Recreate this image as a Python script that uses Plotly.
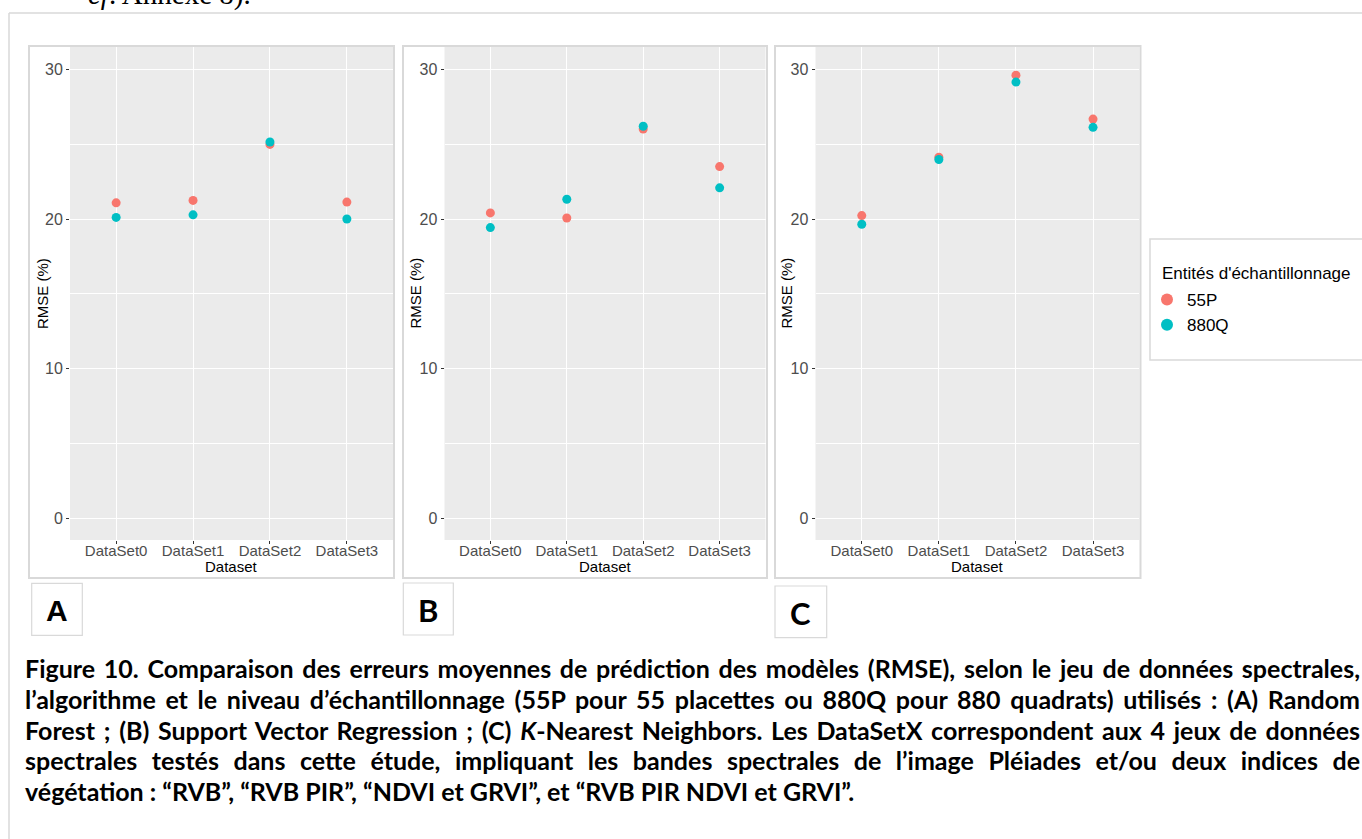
import json
import plotly.graph_objects as go

# ---- data -------------------------------------------------------------
datasets = ["DataSet0", "DataSet1", "DataSet2", "DataSet3"]
groups = ["55P", "880Q"]

rmse_rf_55p = [21.08, 21.24, 24.98, 21.13]      # (A) Random Forest
rmse_rf_880q = [20.11, 20.28, 25.14, 20.00]
rmse_svr_55p = [20.41, 20.07, 26.01, 23.50]     # (B) Support Vector Regression
rmse_svr_880q = [19.43, 21.32, 26.19, 22.08]
rmse_knn_55p = [20.23, 24.12, 29.60, 26.67]     # (C) K-Nearest Neighbors
rmse_knn_880q = [19.65, 23.97, 29.14, 26.12]

y_ticks = [0, 10, 20, 30]
panel_letters = ["A", "B", "C"]

caption_lines = [
    "Figure 10. Comparaison des erreurs moyennes de prédiction des modèles (RMSE), selon le jeu de données spectrales,",
    "l’algorithme et le niveau d’échantillonnage (55P pour 55 placettes ou 880Q pour 880 quadrats) utilisés : (A) Random",
    "Forest ; (B) Support Vector Regression ; (C) <i>K</i>-Nearest Neighbors. Les DataSetX correspondent aux 4 jeux de données",
    "spectrales testés dans cette étude, impliquant les bandes spectrales de l’image Pléiades et/ou deux indices de",
    "végétation : “RVB”, “RVB PIR”, “NDVI et GRVI”, et “RVB PIR NDVI et GRVI”.",
]

# ---- page geometry (pixels) ------------------------------------------
W, H = 1362, 839
COL_55P, COL_880Q = "#F8766D", "#00BFC4"
FRAME = "#d9d9d9"
SANS = "Liberation Sans, Arial, sans-serif"
CAL = "Lato, Carlito, Calibri, sans-serif"


def px(x):
    return x / W


def py(y):
    return 1 - y / H


plot_x = [(70, 393), (444.5, 765.5), (815.5, 1139.3)]
plot_y = (47, 540)
frames = [(29, 46, 394, 578), (403, 46, 767, 578), (775, 46, 1140.5, 578)]
letter_boxes = [(31.7, 583.3, 82.3, 635.3), (403.3, 583, 453.3, 635), (775, 586, 826.7, 637.7)]
ytitle_x = [42.5, 415, 786]

series = [
    (rmse_rf_55p, rmse_rf_880q),
    (rmse_svr_55p, rmse_svr_880q),
    (rmse_knn_55p, rmse_knn_880q),
]

fig = go.Figure()

for i, (v55, v880) in enumerate(series):
    sfx = "" if i == 0 else str(i + 1)
    for name, vals, col in ((groups[0], v55, COL_55P), (groups[1], v880, COL_880Q)):
        fig.add_trace(go.Scatter(
            x=datasets, y=vals, mode="markers", name=name,
            showlegend=(i == 0),
            marker=dict(color=col, size=9, line=dict(width=0)),
            xaxis="x" + sfx, yaxis="y" + sfx,
        ))

axis_common = dict(
    showline=False, zeroline=False,
    ticks="outside", ticklen=3, tickwidth=1, tickcolor="#333333",
    showgrid=True, gridcolor="white", gridwidth=1.2,
)

layout = dict(
    width=W, height=H, margin=dict(l=0, r=0, t=0, b=0),
    paper_bgcolor="white", plot_bgcolor="#EBEBEB",
    showlegend=True,
    legend=dict(
        x=px(1147), y=py(282), xanchor="left", yanchor="top",
        bgcolor="rgba(0,0,0,0)", borderwidth=0, tracegroupgap=0,
        font=dict(family=SANS, size=17, color="black"),
        itemsizing="constant",
    ),
)

for i in range(3):
    sfx = "" if i == 0 else str(i + 1)
    x0, x1 = plot_x[i]
    layout["xaxis" + sfx] = dict(
        axis_common, domain=[px(x0), px(x1)], anchor="y" + sfx,
        type="category", categoryorder="array", categoryarray=datasets,
        range=[-0.6, 3.6], ticklabelstandoff=-6,
        tickfont=dict(family=SANS, size=15, color="#4d4d4d"),
    )
    layout["yaxis" + sfx] = dict(
        axis_common, domain=[py(plot_y[1]), py(plot_y[0])], anchor="x" + sfx,
        range=[-1.42, 31.48], tickvals=y_ticks,
        tickfont=dict(family=SANS, size=16, color="#4d4d4d"),
        minor=dict(dtick=5, tick0=0, showgrid=True, gridcolor="white", gridwidth=0.6, ticks=""),
    )

fig.update_layout(**layout)

shapes = []
annotations = []

# outer page frame
shapes.append(dict(type="line", xref="paper", yref="paper",
                   x0=px(9), x1=px(W + 5), y0=py(13), y1=py(13),
                   line=dict(color=FRAME, width=1.5)))
shapes.append(dict(type="line", xref="paper", yref="paper",
                   x0=px(9), x1=px(9), y0=py(13), y1=py(H + 5),
                   line=dict(color=FRAME, width=1.5)))

for i in range(3):
    fx0, fy0, fx1, fy1 = frames[i]
    shapes.append(dict(type="rect", xref="paper", yref="paper", layer="above",
                       x0=px(fx0), x1=px(fx1), y0=py(fy1), y1=py(fy0),
                       line=dict(color=FRAME, width=2)))
    bx0, by0, bx1, by1 = letter_boxes[i]
    shapes.append(dict(type="rect", xref="paper", yref="paper",
                       x0=px(bx0), x1=px(bx1), y0=py(by1), y1=py(by0),
                       line=dict(color=FRAME, width=1.2)))
    annotations.append(dict(
        text="<b>%s</b>" % panel_letters[i], x=px((bx0 + bx1) / 2), y=py((by0 + by1) / 2 + 1),
        xref="paper", yref="paper", xanchor="center", yanchor="middle", showarrow=False,
        font=dict(family=SANS if i == 0 else CAL, size=30 if i == 0 else 31, color="black"),
    ))
    # axis titles
    x0, x1 = plot_x[i]
    annotations.append(dict(
        text="Dataset", x=px((x0 + x1) / 2), y=py(566.5), xref="paper", yref="paper",
        xanchor="center", yanchor="middle", showarrow=False,
        font=dict(family=SANS, size=15, color="black"),
    ))
    annotations.append(dict(
        text="RMSE (%)", x=px(ytitle_x[i]), y=py((plot_y[0] + plot_y[1]) / 2), xref="paper", yref="paper",
        xanchor="center", yanchor="middle", showarrow=False, textangle=-90,
        font=dict(family=SANS, size=15, color="black"),
    ))

# legend frame and title
shapes.append(dict(type="rect", xref="paper", yref="paper",
                   x0=px(1150), x1=px(W + 20), y0=py(360), y1=py(239),
                   line=dict(color=FRAME, width=1.5)))
annotations.append(dict(
    text="Entités d'échantillonnage", x=px(1160), y=py(273), xref="paper", yref="paper",
    xanchor="left", yanchor="middle", showarrow=False,
    font=dict(family=SANS, size=17, color="black"),
))

# caption
cap_centers = [668, 698.8, 729.5, 760.3, 791]
for line, yc in zip(caption_lines, cap_centers):
    annotations.append(dict(
        text="<b>%s</b>" % line, x=px(23), y=py(yc), xref="paper", yref="paper",
        xanchor="left", yanchor="middle", align="left", showarrow=False,
        font=dict(family=CAL, size=25, color="black"),
    ))

# end of the preceding paragraph, cut by the top of the page view
annotations.append(dict(
    text="<i>cf</i>. Annexe 8).", x=px(86), y=py(13), xref="paper", yref="paper",
    xanchor="left", yanchor="bottom", showarrow=False,
    font=dict(family="Liberation Serif, Times New Roman, serif", size=29, color="black"),
))

fig.update_layout(shapes=shapes, annotations=annotations)

# full-justify the first four caption lines to the right text margin
justify_prefixes = [l.replace("<i>", "").replace("</i>", "")[:25] for l in caption_lines[:4]]
post = """
var gd = document.getElementById('{plot_id}');
var prefixes = %s;
var rightEdge = 1360;
var gr = gd.getBoundingClientRect();
gd.querySelectorAll('text.annotation-text').forEach(function(t) {
  var txt = t.textContent;
  for (var k = 0; k < prefixes.length; k++) {
    if (txt.indexOf(prefixes[k]) === 0) {
      t.style.wordSpacing = '0px';
      var r = t.getBoundingClientRect();
      var n = (txt.match(/ /g) || []).length;
      var extra = (gr.left + rightEdge) - r.right;
      if (n > 0) { t.style.wordSpacing = (extra / n) + 'px'; }
    }
  }
});
""" % json.dumps(justify_prefixes)

fig.write_html("out.html", post_script=post)
